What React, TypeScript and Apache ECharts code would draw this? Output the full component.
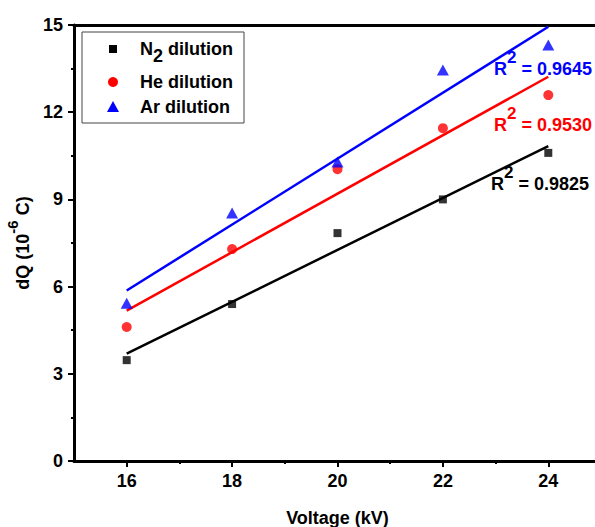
import React, { useEffect, useRef } from "react";
import * as echarts from "echarts";

const FONT = "'Liberation Sans', Arial, sans-serif";

const voltages = [16, 18, 20, 22, 24];
const n2Values = [3.47, 5.4, 7.84, 9.0, 10.6];
const heValues = [4.61, 7.29, 10.04, 11.45, 12.59];
const arValues = [5.43, 8.53, 10.29, 13.45, 14.31];
const r2Labels = ["0.9825", "0.9530", "0.9645"];
const xMajorTicks = [16, 18, 20, 22, 24];
const xMinorTicks = [17, 19, 21, 23];

function linearFit(xs: number[], ys: number[]) {
  const n = xs.length;
  const mx = xs.reduce((a, b) => a + b, 0) / n;
  const my = ys.reduce((a, b) => a + b, 0) / n;
  let sxy = 0;
  let sxx = 0;
  for (let i = 0; i < n; i++) {
    sxy += (xs[i] - mx) * (ys[i] - my);
    sxx += (xs[i] - mx) * (xs[i] - mx);
  }
  const b = sxy / sxx;
  const a = my - b * mx;
  const x0 = xs[0];
  const x1 = xs[n - 1];
  return [
    [x0, a + b * x0],
    [x1, a + b * x1],
  ];
}

const pairs = (ys: number[]) => voltages.map((x, i) => [x, ys[i]]);

function supText(color: string, value: string, x: number, y: number) {
  return {
    type: "text",
    x,
    y,
    style: {
      text: `{r|R}{s|2}{r| = ${value}}`,
      verticalAlign: "top",
      align: "left",
      rich: {
        r: { fontSize: 18, fontWeight: "bold", fontFamily: FONT, fill: color, lineHeight: 29, verticalAlign: "bottom" },
        s: { fontSize: 17, fontWeight: "bold", fontFamily: FONT, fill: color, verticalAlign: "top" },
      },
    },
    z: 10,
  };
}

export default function App() {
  const ref = useRef<HTMLDivElement>(null);
  useEffect(() => {
    if (!ref.current) return;
    const chart = echarts.init(ref.current, undefined, { renderer: "svg" });
    const axisLine = { show: true, onZero: false, lineStyle: { color: "#000", width: 3 } };
    const tickStyle = { color: "#000", width: 2 };
    const labelStyle = { fontSize: 18, fontWeight: "bold", color: "#000", fontFamily: FONT };
    const option: any = {
      animation: false,
      textStyle: { fontFamily: FONT },
      grid: { left: 74, top: 25, right: -6, bottom: 66, containLabel: false, outerBoundsMode: "none" },
      xAxis: [
        {
          type: "value",
          min: 15,
          max: 25,
          position: "bottom",
          axisLine,
          axisTick: { show: true, customValues: xMajorTicks, length: 6, lineStyle: tickStyle },
          axisLabel: { ...labelStyle, customValues: xMajorTicks, margin: 11 },
          splitLine: { show: false },
          name: "Voltage (kV)",
          nameLocation: "middle",
          nameGap: 48,
          nameTextStyle: { fontSize: 18, fontWeight: "bold", color: "#000", fontFamily: FONT },
        },
        {
          type: "value",
          min: 15,
          max: 25,
          position: "bottom",
          axisLine: { show: false },
          axisTick: { show: true, customValues: xMinorTicks, length: 3, lineStyle: tickStyle },
          axisLabel: { show: false },
          splitLine: { show: false },
        },
        {
          type: "value",
          min: 15,
          max: 25,
          position: "top",
          axisLine,
          axisTick: { show: false },
          axisLabel: { show: false },
          splitLine: { show: false },
        },
      ],
      yAxis: {
        type: "value",
        min: 0,
        max: 15,
        interval: 3,
        axisLine,
        axisTick: { show: true, length: 6, lineStyle: tickStyle },
        minorTick: { show: true, splitNumber: 2, length: 3, lineStyle: tickStyle },
        axisLabel: { ...labelStyle, margin: 11 },
        splitLine: { show: false },
        name: "{a|dQ (10}{s|-6}{a| C)}",
        nameLocation: "middle",
        nameGap: 31,
        nameTextStyle: {
          rich: {
            a: { fontSize: 18, fontWeight: "bold", color: "#000", fontFamily: FONT, lineHeight: 27, verticalAlign: "bottom" },
            s: { fontSize: 15, fontWeight: "bold", color: "#000", fontFamily: FONT, verticalAlign: "top" },
          },
        },
      },
      series: [
        {
          name: "N2 fit",
          type: "line",
          data: linearFit(voltages, n2Values),
          showSymbol: false,
          lineStyle: { color: "#000", width: 2.5 },
          z: 2,
        },
        {
          name: "He fit",
          type: "line",
          data: linearFit(voltages, heValues),
          showSymbol: false,
          lineStyle: { color: "#ff0000", width: 2.5 },
          z: 2,
        },
        {
          name: "Ar fit",
          type: "line",
          data: linearFit(voltages, arValues),
          showSymbol: false,
          lineStyle: { color: "#0000ff", width: 2.5 },
          z: 2,
        },
        {
          name: "N2 dilution",
          type: "scatter",
          data: pairs(n2Values),
          symbol: "rect",
          symbolSize: 8,
          itemStyle: { color: "#000" },
          z: 3,
        },
        {
          name: "He dilution",
          type: "scatter",
          data: pairs(heValues),
          symbol: "circle",
          symbolSize: 10,
          itemStyle: { color: "#ff0000" },
          z: 3,
        },
        {
          name: "Ar dilution",
          type: "scatter",
          data: pairs(arValues),
          symbol: "triangle",
          symbolSize: [12, 11],
          itemStyle: { color: "#0000ff" },
          z: 3,
        },
      ],
      graphic: [
        {
          type: "rect",
          shape: { x: 82, y: 32, width: 162, height: 91 },
          style: { fill: "#fff", stroke: "#444", lineWidth: 1 },
          z: 5,
        },
        { type: "rect", shape: { x: 109, y: 45, width: 8, height: 8 }, style: { fill: "#000" }, z: 6 },
        { type: "circle", shape: { cx: 113, cy: 82, r: 5 }, style: { fill: "#ff0000" }, z: 6 },
        {
          type: "polygon",
          shape: { points: [[107, 112], [119, 112], [113, 101]] },
          style: { fill: "#0000ff" },
          z: 6,
        },
        {
          type: "text",
          x: 140,
          y: 40,
          style: {
            text: "{a|N}{b|2}{a| dilution}",
            verticalAlign: "top",
            rich: {
              a: { fontSize: 18, fontWeight: "bold", fontFamily: FONT, fill: "#000", verticalAlign: "top" },
              b: { fontSize: 18, fontWeight: "bold", fontFamily: FONT, fill: "#000", lineHeight: 25, verticalAlign: "bottom" },
            },
          },
          z: 6,
        },
        {
          type: "text",
          x: 140,
          y: 82,
          style: {
            text: "He dilution",
            fontSize: 18,
            fontWeight: "bold",
            fontFamily: FONT,
            fill: "#000",
            verticalAlign: "middle",
          },
          z: 6,
        },
        {
          type: "text",
          x: 140,
          y: 107,
          style: {
            text: "Ar dilution",
            fontSize: 18,
            fontWeight: "bold",
            fontFamily: FONT,
            fill: "#000",
            verticalAlign: "middle",
          },
          z: 6,
        },
        supText("#0000ff", r2Labels[2], 494, 49),
        supText("#ff0000", r2Labels[1], 494, 105),
        supText("#000", r2Labels[0], 491, 164),
      ],
    };
    chart.setOption(option);
    return () => chart.dispose();
  }, []);
  return (
    <div
      ref={ref}
      style={{ position: "fixed", left: 0, top: 0, width: 595, height: 527, background: "#fff" }}
    />
  );
}
